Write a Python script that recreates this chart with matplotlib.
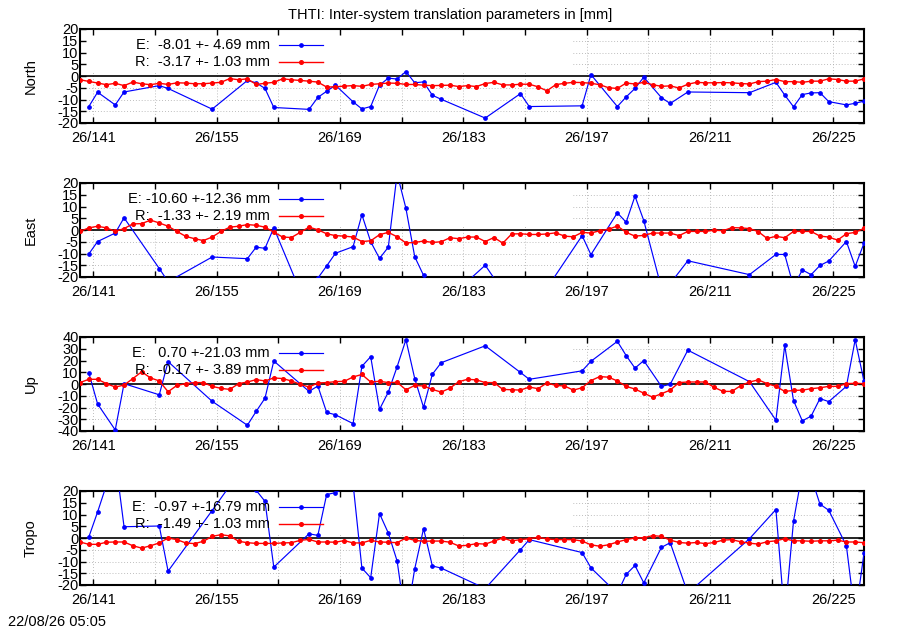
import numpy as np
import matplotlib
matplotlib.use("Agg")
import matplotlib.pyplot as plt
from matplotlib.patches import Rectangle

plt.rcParams['font.family'] = ['Liberation Sans', 'DejaVu Sans']

title = "THTI: Inter-system translation parameters in [mm]"
footer = "22/08/26 05:05"
panel_names = ["North", "East", "Up", "Tropo"]

# daily epochs for R series (day of year 2026, noon)
r_days = [139.5 + i for i in range(90)]
# epochs of E series
e_days = [140.5, 141.5, 143.5, 144.5, 148.5, 149.5, 154.5, 158.5, 159.5, 160.5,
          161.5, 165.5, 166.5, 167.5, 168.5, 170.5, 171.5, 172.5, 173.5, 174.5,
          175.5, 176.5, 177.5, 178.5, 179.5, 180.5, 185.5, 189.5, 190.5, 196.5,
          197.5, 200.5, 201.5, 202.5, 203.5, 205.5, 206.5, 208.5, 215.5, 218.5,
          219.5, 220.5, 221.5, 222.5, 223.5, 224.5, 226.5, 227.5, 228.5]

north_e = [-13.0, -6.9, -12.3, -6.8, -4.1, -5.3, -14.1, -1.9, -2.9, -5.3,
           -13.4, -14.2, -9.1, -6.5, -3.9, -11.0, -14.0, -13.0, -3.9, -0.9,
           -1.3, 1.9, -2.9, -2.5, -8.2, -9.9, -17.9, -7.5, -13.0, -12.7,
           0.6, -13.0, -8.9, -5.3, -0.5, -9.2, -11.7, -6.8, -7.1, -2.7,
           -8.1, -13.1, -7.9, -7.2, -7.1, -10.9, -12.3, -11.6, -10.7]
north_r = [-1.6, -2.3, -3.0, -3.7, -3.1, -4.1, -2.6, -3.3, -3.7, -3.1,
           -3.6, -2.9, -3.0, -3.3, -3.3, -3.0, -2.7, -1.1, -1.6, -1.2,
           -3.6, -3.1, -2.7, -1.2, -1.6, -1.9, -2.2, -2.6, -4.7, -4.6,
           -4.3, -4.1, -4.4, -3.6, -3.3, -3.0, -3.1, -3.6, -3.6, -3.9,
           -4.1, -4.0, -3.9, -4.5, -4.1, -4.5, -3.2, -2.7, -3.8, -3.8,
           -3.5, -3.5, -4.6, -6.3, -3.7, -3.1, -2.7, -2.8, -3.1, -3.7,
           -5.0, -5.3, -3.0, -3.4, -2.7, -3.7, -4.4, -4.2, -5.1, -3.5,
           -2.7, -2.9, -2.9, -2.8, -2.9, -3.2, -3.4, -2.4, -2.2, -1.5,
           -2.4, -2.4, -2.7, -2.2, -2.2, -1.2, -1.5, -2.2, -2.2, -1.2]

east_e = [-10.2, -4.9, -1.3, 5.2, -16.4, -22.0, -11.5, -12.2, -7.3, -7.8,
          0.9, -35.0, -20.5, -15.3, -9.9, -7.1, 6.5, -5.0, -12.1, -7.3,
          24.0, 9.2, -11.4, -19.3, -28.0, -32.0, -15.0, -37.0, -36.0, -2.4,
          -10.5, 7.3, 3.3, 14.4, 4.0, -24.7, -22.8, -13.1, -19.0, -10.4,
          -10.4, -24.0, -17.0, -19.0, -15.1, -13.2, -4.9, -15.5, -5.6]
east_r = [-0.6, 0.9, 1.6, 0.9, -0.6, 0.6, 2.6, 2.7, 4.2, 3.0,
          1.6, -0.6, -2.7, -3.7, -4.5, -3.0, -0.6, 1.2, 1.6, 2.3,
          2.0, 1.2, -0.9, -3.0, -3.2, -1.0, 1.2, 0.1, -1.6, -2.4,
          -2.6, -3.0, -4.9, -4.6, -2.0, -1.0, -2.9, -5.5, -5.3, -4.7,
          -5.3, -5.0, -3.3, -3.7, -3.0, -3.0, -4.9, -3.2, -5.6, -1.7,
          -1.6, -1.9, -1.9, -1.7, -1.2, -2.6, -2.9, -1.0, -1.3, -0.3,
          0.3, 1.7, -1.0, -2.6, -2.3, -1.3, -1.3, -1.3, -2.4, -0.6,
          -0.6, -0.6, -0.1, -0.3, 1.0, 0.9, 0.6, -0.7, -3.6, -2.7,
          -3.3, -0.6, -0.6, -0.6, -2.6, -3.0, -4.3, -1.6, -1.0, 0.7]

up_e = [9.5, -17.0, -39.1, 0.3, -9.2, 19.0, -14.7, -35.1, -23.3, -12.1,
        19.6, -6.3, -1.7, -24.2, -26.2, -33.7, 15.0, 23.3, -21.6, -6.9,
        14.7, 37.7, 4.6, -19.9, 8.3, 18.1, 32.5, 9.8, 4.0, 11.2,
        19.3, 36.3, 24.2, 13.5, 19.9, -2.0, -0.3, 28.8, 2.0, -30.8,
        32.8, -14.1, -31.4, -27.3, -12.4, -15.0, -2.0, 37.7, 2.3]
up_r = [1.2, 4.0, 4.0, 0.3, -2.6, -0.9, 4.6, 10.4, 5.2, 2.6,
        -6.6, -1.2, 0.3, 1.2, 1.2, -2.0, -3.7, -4.6, 0.3, 1.7,
        3.7, 2.6, 5.2, 4.6, 2.6, -0.3, -2.6, 0.9, 1.2, 2.0,
        2.3, 6.0, 8.1, 1.7, 2.3, 1.2, 1.4, -4.9, -1.2, -1.7,
        -4.6, -6.9, -3.5, 2.0, 4.0, 3.5, 1.2, 1.2, -4.6, -4.9,
        -5.2, -2.6, -4.0, 0.9, -1.2, -1.7, -5.2, -3.2, 2.9, 6.3,
        5.8, 2.6, -2.0, -4.3, -7.8, -11.2, -8.3, -5.2, 1.2, 1.7,
        1.7, 1.7, -2.9, -6.3, -6.3, -1.4, 1.7, 3.5, 0.3, -2.0,
        -6.3, -5.5, -5.2, -4.0, -3.2, -2.0, -2.0, 0.3, 0.6, 0.3]

tropo_e = [0.4, 11.1, 34.0, 4.8, 5.1, -14.1, 11.7, 32.7, 20.3, 15.6,
           -12.4, 1.8, 1.1, 18.5, 19.3, 23.0, -12.8, -16.9, 10.4, 2.1,
           -9.8, -36.0, -13.1, 4.0, -11.9, -12.8, -21.5, -5.0, -0.7, -6.2,
           -12.7, -23.6, -15.5, -11.7, -19.1, -4.0, -2.0, -23.5, -0.3, 12.1,
           -34.0, 7.2, 28.0, 26.0, 14.4, 11.8, -3.3, -33.5, -6.5]
tropo_r = [-1.7, -2.7, -2.7, -1.8, -1.7, -1.7, -3.3, -4.3, -3.3, -2.1,
           0.0, -0.7, -2.1, -2.4, -1.4, 0.7, 1.4, 0.9, -1.4, -2.0,
           -2.3, -2.3, -2.3, -2.1, -2.0, -1.0, -0.6, -1.7, -1.7, -1.8,
           -1.1, -2.1, -2.1, -1.0, -1.7, -1.8, -2.0, 0.0, -1.0, -1.4,
           -1.3, -1.3, -1.8, -3.4, -3.1, -2.4, -2.6, -1.3, 0.0, -1.2,
           -0.7, -0.3, 0.3, -0.4, -0.7, -0.7, -0.7, -1.3, -2.9, -3.5,
           -2.9, -1.7, -0.7, 0.0, 0.1, 1.0, 0.7, -0.9, -1.9, -2.2,
           -1.9, -2.4, -1.9, -0.9, -0.7, -1.6, -2.2, -2.6, -1.6, -1.2,
           -0.3, -1.2, -1.2, -1.4, -1.2, -1.2, -0.9, -1.7, -1.7, -2.0]

e_labels = ["E:  -8.01 +- 4.69 mm", "E: -10.60 +-12.36 mm",
            "E:   0.70 +-21.03 mm", "E:  -0.97 +-16.79 mm"]
r_labels = ["R:  -3.17 +- 1.03 mm", "R:  -1.33 +- 2.19 mm",
            "R:  -0.17 +- 3.89 mm", "R:  -1.49 +- 1.03 mm"]
y_limits = [20, 20, 40, 20]
y_steps = [5, 5, 10, 5]

x_ticks = list(range(141, 226, 7))
x_labels = ["26/%d" % d if (d - 141) % 14 == 0 else "" for d in x_ticks]

e_series = [north_e, east_e, up_e, tropo_e]
r_series = [north_r, east_r, up_r, tropo_r]

W, H = 900, 630
fig = plt.figure(figsize=(W / 100, H / 100), dpi=100)
FS = 10.5

panel_tops = [29, 183, 337, 491]
left_px, right_px = 80, 864
ph = 94

BLUE = "#0000ff"
RED = "#ff0000"
GRID = "#a8a8a8"
E_LW, E_MS = 0.85, 2.4
R_LW, R_MS = 1.0, 2.6

for i in range(4):
    top = panel_tops[i]
    ax = fig.add_axes([left_px / W, 1 - (top + ph) / H, (right_px - left_px) / W, ph / H])
    lim = y_limits[i]
    ax.set_xlim(r_days[0], r_days[-1])
    ax.set_ylim(-lim, lim)
    yt = np.arange(-lim, lim + 0.1, y_steps[i])
    ax.set_yticks(yt)
    ax.set_yticklabels(["%d" % v for v in yt])
    ax.set_xticks(x_ticks)
    ax.set_xticklabels(x_labels)
    ax.tick_params(direction='in', length=4.5, width=1.0, top=True, right=True,
                   labelsize=FS, colors='black')
    ax.tick_params(axis='y', pad=1)
    ax.tick_params(axis='x', pad=6)
    for s in ax.spines.values():
        s.set_linewidth(1.5)
    # grid
    for y in yt:
        if y not in (-lim, 0, lim):
            ax.axhline(y, color=GRID, lw=0.6, ls=(0, (1, 2.5)), zorder=0.5)
    for x in x_ticks:
        ax.axvline(x, color=GRID, lw=0.6, ls=(0, (1, 2.5)), zorder=0.5)
    # opaque key box
    ax.add_patch(Rectangle((0, 0.537), 0.629, 0.463, transform=ax.transAxes,
                           facecolor='white', edgecolor='none', zorder=1))
    ax.axhline(0, color='black', lw=1.2, zorder=1.5)
    ax.plot(e_days, e_series[i], color=BLUE, lw=E_LW, marker='o', ms=E_MS,
            mec=BLUE, mfc=BLUE, zorder=3)
    ax.plot(r_days, r_series[i], color=RED, lw=R_LW, marker='o', ms=R_MS,
            mec=RED, mfc=RED, zorder=4)
    # key
    ky = [1 - 16 / ph, 1 - 33 / ph]
    tx = (270 - left_px) / (right_px - left_px)
    x0 = (279 - left_px) / (right_px - left_px)
    x1 = (323 - left_px) / (right_px - left_px)
    for j, (lab, col, lw, ms) in enumerate([(e_labels[i], BLUE, E_LW, E_MS),
                                             (r_labels[i], RED, R_LW, R_MS)]):
        ax.text(tx, ky[j], lab, transform=ax.transAxes, ha='right', va='center',
                fontsize=FS, zorder=6)
        ax.plot([x0, x1], [ky[j], ky[j]], transform=ax.transAxes, color=col,
                lw=lw, zorder=6, clip_on=False)
        ax.plot([(x0 + x1) / 2], [ky[j]], transform=ax.transAxes, color=col,
                marker='o', ms=ms, zorder=6, clip_on=False)
    fig.text(31 / W, 1 - (top + ph / 2) / H, panel_names[i], rotation=90,
             ha='center', va='center', fontsize=FS)

fig.text(450 / W, 1 - 15 / H, title, ha='center', va='center', fontsize=FS)
fig.text(8 / W, 1 - 622 / H, footer, ha='left', va='center', fontsize=FS)

fig.savefig("out.png", dpi=100, facecolor='white')
